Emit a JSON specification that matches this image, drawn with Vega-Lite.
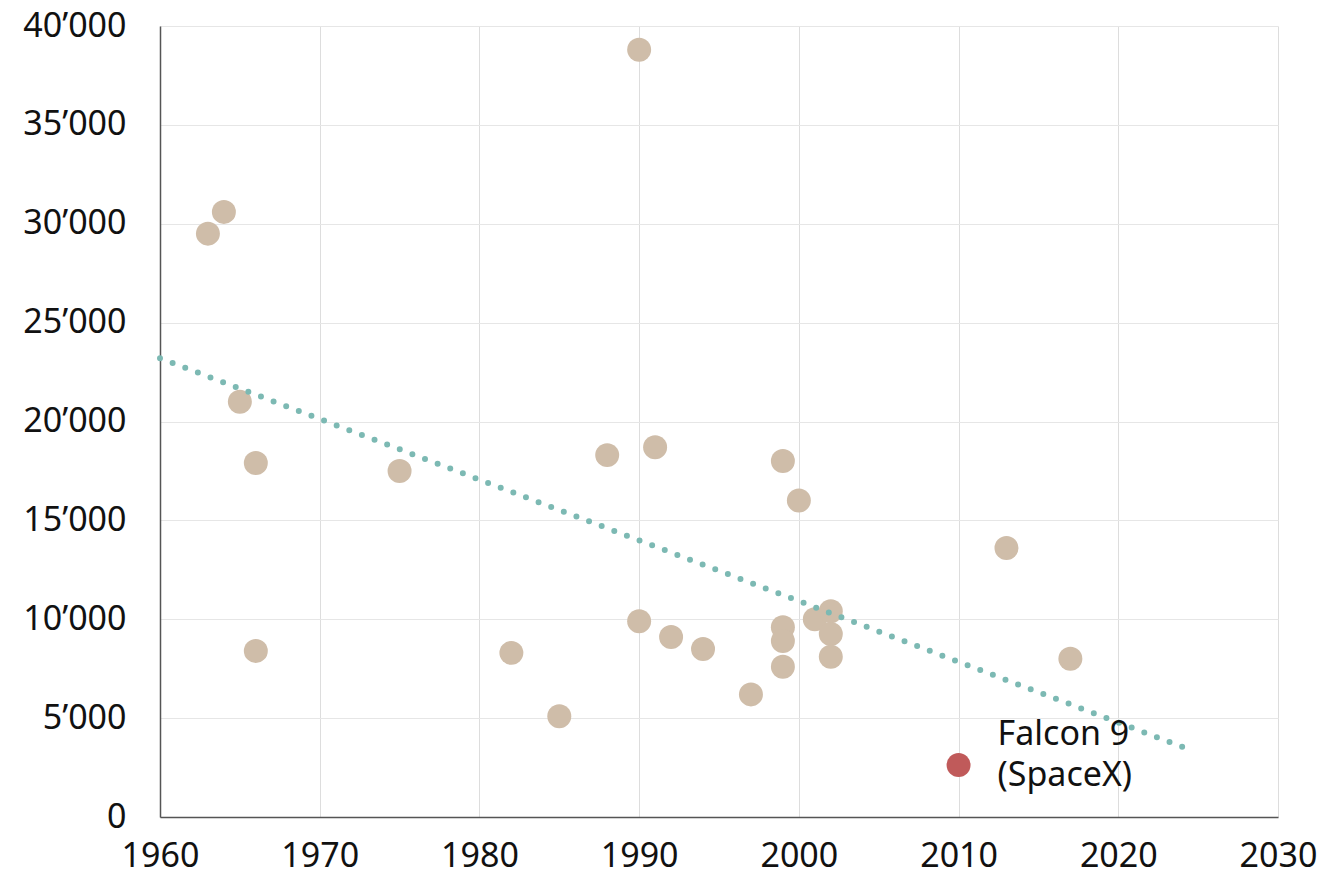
{
  "$schema": "https://vega.github.io/schema/vega-lite/v6.json",
  "width": 1118,
  "height": 791,
  "autosize": {"type": "none"},
  "padding": {"left": 160, "top": 26, "right": 44, "bottom": 62},
  "background": "white",
  "config": {
    "view": {"stroke": null},
    "font": "Noto Sans",
    "axis": {
      "labelFont": "Noto Sans",
      "labelFontSize": 34,
      "labelColor": "#111111",
      "labelFlush": false,
      "labelOverlap": false,
      "ticks": false,
      "tickSize": 0,
      "domainColor": "#555555",
      "domainWidth": 1.5,
      "gridColor": "#e3e3e3",
      "gridWidth": 1,
      "title": null
    }
  },
  "datasets": {
    "rockets": [
      {"year": 1963, "cost": 29500, "kind": "other"},
      {"year": 1964, "cost": 30600, "kind": "other"},
      {"year": 1965, "cost": 21000, "kind": "other"},
      {"year": 1966, "cost": 17900, "kind": "other"},
      {"year": 1966, "cost": 8400, "kind": "other"},
      {"year": 1975, "cost": 17500, "kind": "other"},
      {"year": 1982, "cost": 8300, "kind": "other"},
      {"year": 1985, "cost": 5100, "kind": "other"},
      {"year": 1988, "cost": 18300, "kind": "other"},
      {"year": 1990, "cost": 38800, "kind": "other"},
      {"year": 1990, "cost": 9900, "kind": "other"},
      {"year": 1991, "cost": 18700, "kind": "other"},
      {"year": 1992, "cost": 9100, "kind": "other"},
      {"year": 1994, "cost": 8500, "kind": "other"},
      {"year": 1997, "cost": 6200, "kind": "other"},
      {"year": 1999, "cost": 18000, "kind": "other"},
      {"year": 1999, "cost": 9600, "kind": "other"},
      {"year": 1999, "cost": 8900, "kind": "other"},
      {"year": 1999, "cost": 7600, "kind": "other"},
      {"year": 2000, "cost": 16000, "kind": "other"},
      {"year": 2001, "cost": 10000, "kind": "other"},
      {"year": 2002, "cost": 10400, "kind": "other"},
      {"year": 2002, "cost": 9250, "kind": "other"},
      {"year": 2002, "cost": 8100, "kind": "other"},
      {"year": 2013, "cost": 13600, "kind": "other"},
      {"year": 2017, "cost": 8000, "kind": "other"},
      {"year": 2010, "cost": 2630, "kind": "Falcon 9"}
    ],
    "trend": [
      {"year": 1960, "cost": 23200},
      {"year": 2024, "cost": 3550}
    ],
    "label": [
      {"year": 2010, "cost": 2630, "text": ["Falcon 9", "(SpaceX)"]}
    ]
  },
  "layer": [
    {
      "data": {"name": "rockets"},
      "mark": {"type": "point", "filled": true, "shape": "circle", "size": 575, "opacity": 1},
      "encoding": {
        "x": {
          "field": "year", "type": "quantitative",
          "scale": {"domain": [1960, 2030], "nice": false, "zero": false},
          "axis": {"values": [1960, 1970, 1980, 1990, 2000, 2010, 2020, 2030], "format": "d", "labelPadding": 22, "gridColor": "#dddddd"}
        },
        "y": {
          "field": "cost", "type": "quantitative",
          "scale": {"domain": [0, 40000], "nice": false},
          "axis": {"values": [0, 5000, 10000, 15000, 20000, 25000, 30000, 35000, 40000], "labelExpr": "replace(format(datum.value, ','), ',', '’')", "labelPadding": 34, "gridColor": "#e6e6e6"}
        },
        "color": {
          "field": "kind", "type": "nominal",
          "scale": {"domain": ["other", "Falcon 9"], "range": ["#cfbda9", "#c05a5a"]},
          "legend": null
        }
      }
    },
    {
      "data": {"name": "trend"},
      "mark": {"type": "line", "color": "#7cb9b3", "strokeWidth": 6, "strokeCap": "round", "strokeDash": [0, 13.5]},
      "encoding": {
        "x": {"field": "year", "type": "quantitative"},
        "y": {"field": "cost", "type": "quantitative"}
      }
    },
    {
      "data": {"name": "label"},
      "mark": {"type": "text", "align": "left", "baseline": "middle", "dx": 39, "dy": -30, "fontSize": 34, "lineHeight": 41, "color": "#111111", "font": "Noto Sans"},
      "encoding": {
        "x": {"field": "year", "type": "quantitative"},
        "y": {"field": "cost", "type": "quantitative"},
        "text": {"field": "text"}
      }
    }
  ]
}
